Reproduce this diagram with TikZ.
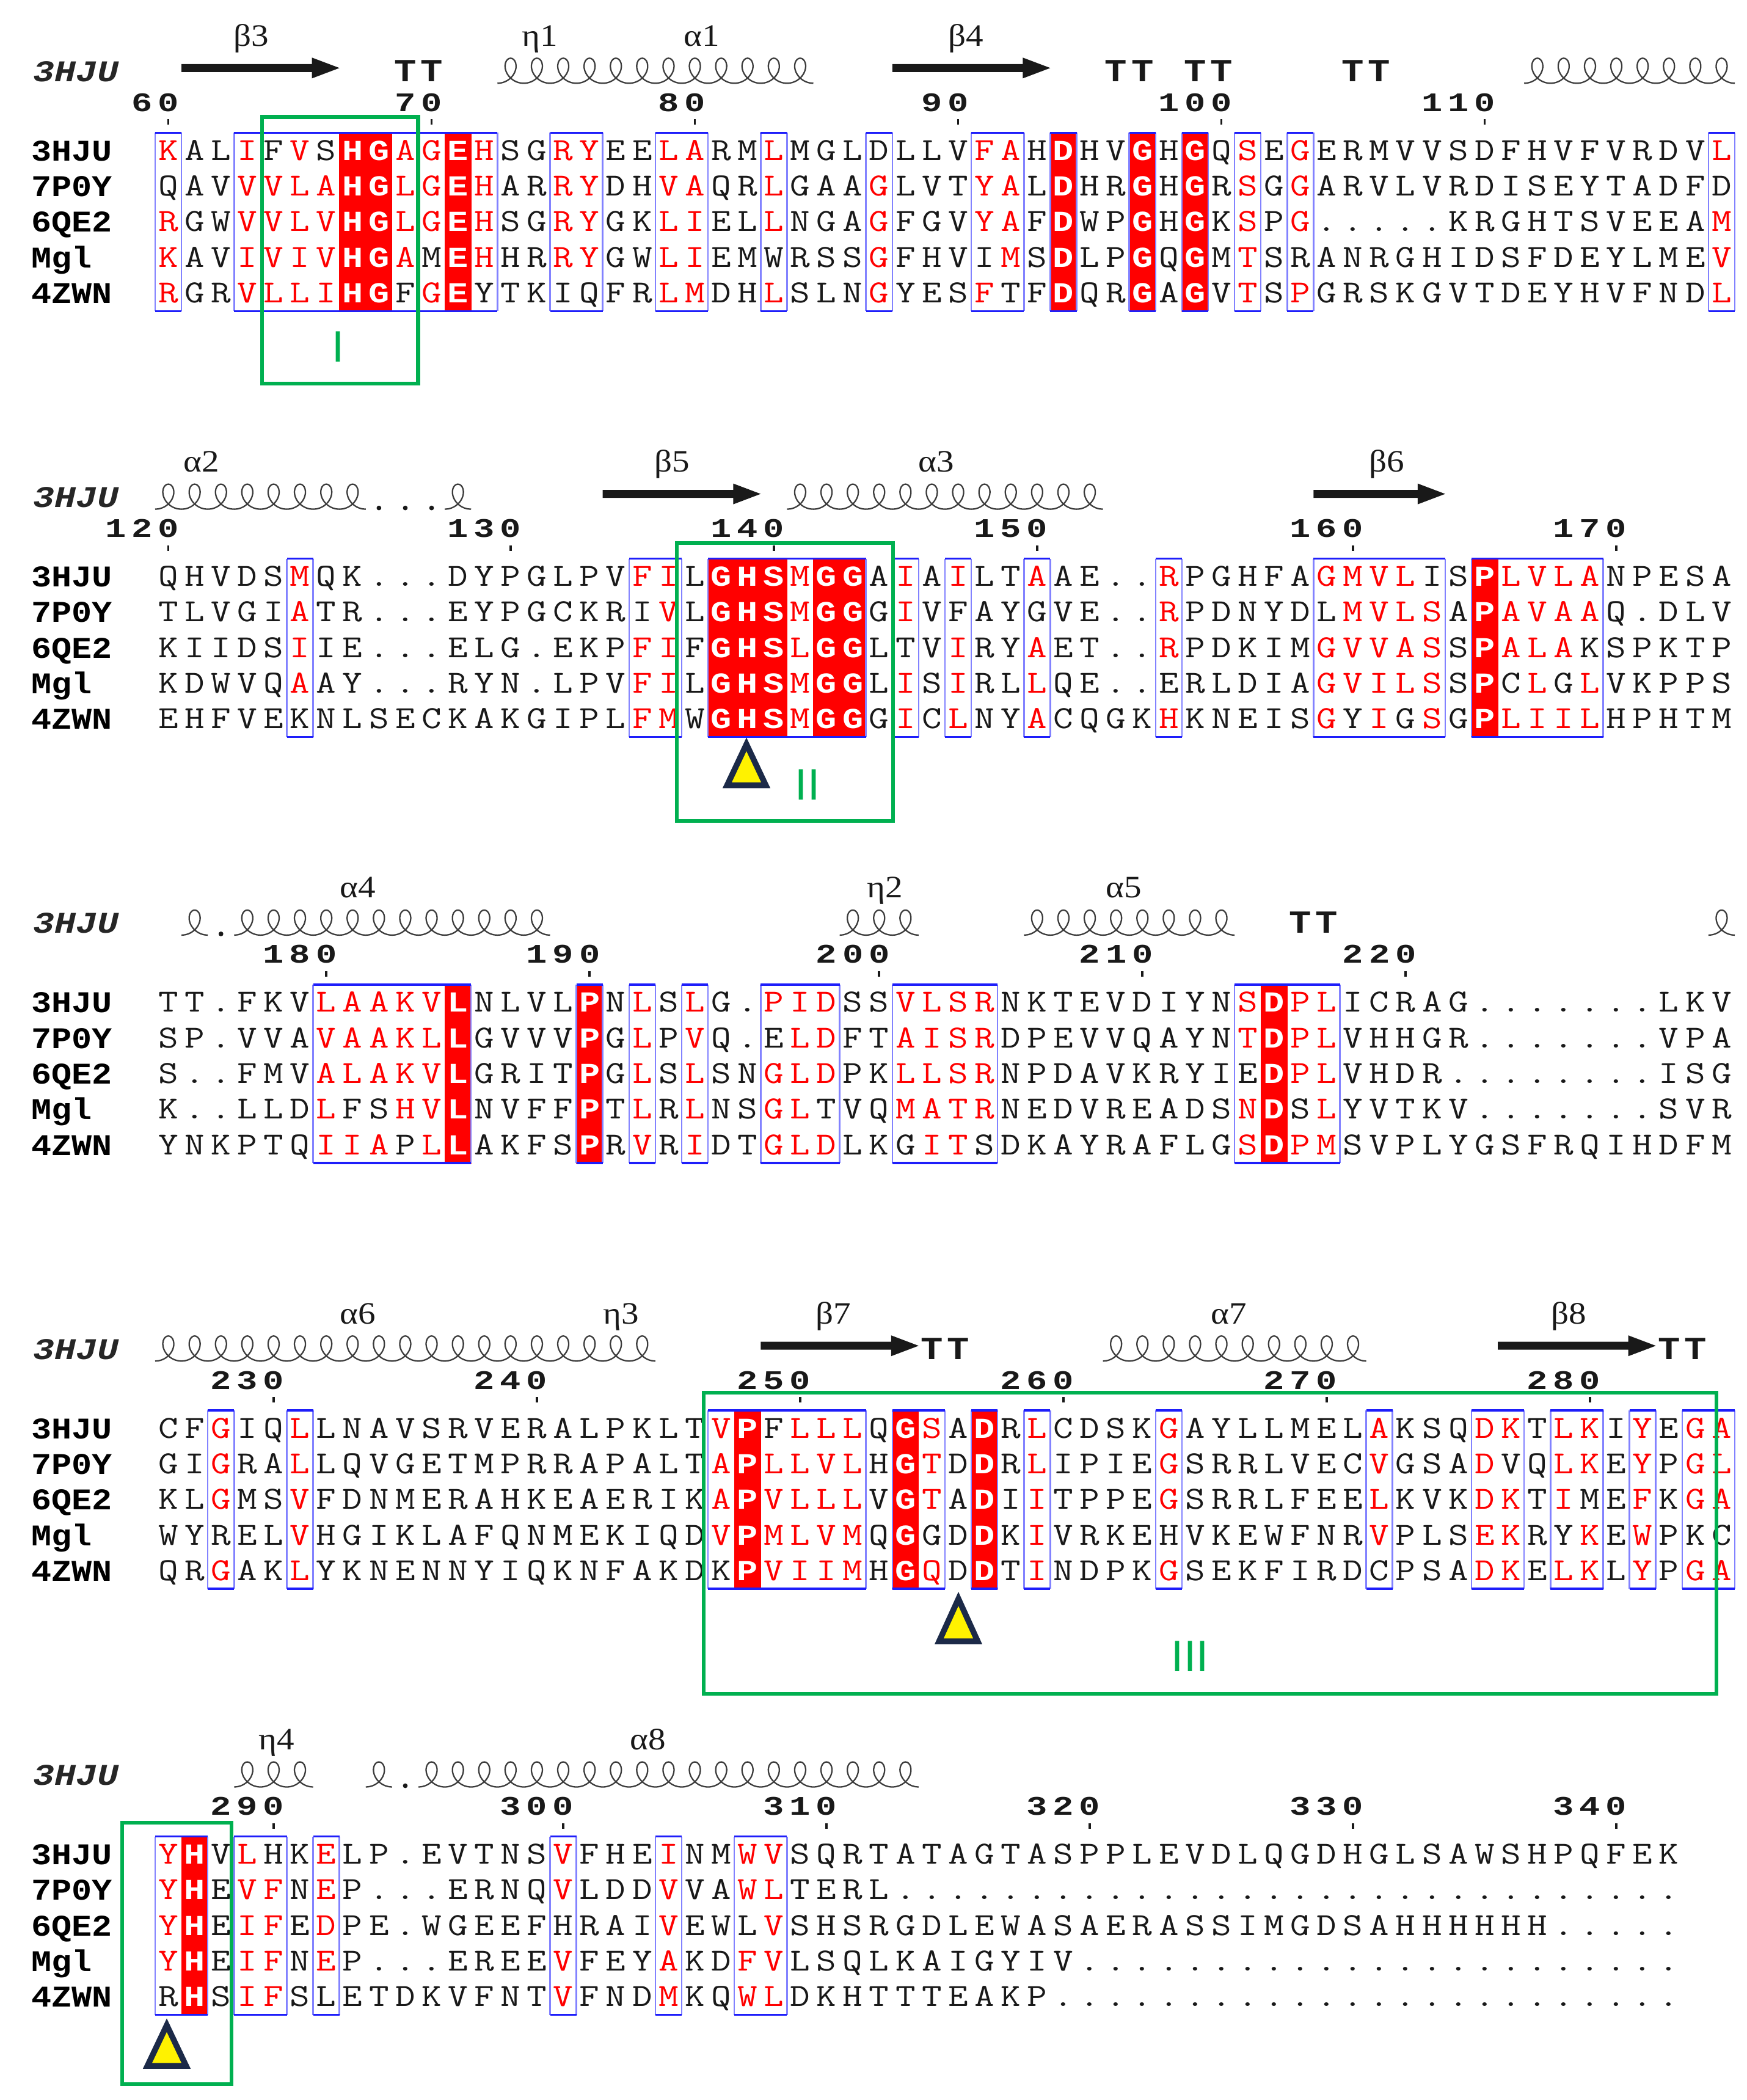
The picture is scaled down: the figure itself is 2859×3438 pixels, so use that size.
\documentclass[tikz,border=0pt]{standalone}
\usepackage{fontspec}
\newfontfamily\lmono{Liberation Mono}
\newfontfamily\lserif{Liberation Serif}
\newfontfamily\lsans{Liberation Sans}

\definecolor{espred}{RGB}{255,0,0}
\definecolor{espblue}{RGB}{30,30,250}
\definecolor{espside}{RGB}{130,130,255}
\definecolor{grn}{RGB}{0,176,80}
\definecolor{navy}{RGB}{28,42,72}
\definecolor{ink}{RGB}{25,25,25}

\def\seqf{\ttfamily\fontsize{15pt}{15pt}\selectfont}
\def\seqb{\lmono\bfseries\fontsize{13.5pt}{13.5pt}\selectfont}
\def\namefont{\lmono\bfseries\fontsize{14pt}{14pt}\selectfont}
\def\hdrfont{\lmono\bfseries\itshape\fontsize{14pt}{14pt}\selectfont}
\def\numfont{\lmono\bfseries\fontsize{12.5pt}{12.5pt}\selectfont}
\def\ttfont{\lmono\bfseries\fontsize{15pt}{15pt}\selectfont}
\def\grkfont{\lserif\fontsize{14.5pt}{14.5pt}\selectfont}
\def\romfont{\lsans\fontsize{20.5pt}{20.5pt}\selectfont}

\tikzset{
 klet/.style={anchor=base,inner sep=0pt,text=ink,font=\seqf},
 rlet/.style={anchor=base,inner sep=0pt,text=espred,font=\seqf},
 wlet/.style={anchor=base,inner sep=0pt,text=white,font=\seqb},
 namef/.style={anchor=base west,inner sep=0pt,text=black,font=\namefont},
 hdrf/.style={anchor=base west,inner sep=0pt,text=black!85,font=\hdrfont},
 numf/.style={anchor=base,inner sep=0pt,text=ink,font=\numfont},
 ttf/.style={anchor=base,inner sep=0pt,text=ink,font=\ttfont},
 grk/.style={anchor=base,inner sep=0pt,text=ink,font=\grkfont},
 grnlab/.style={inner sep=0pt,text=grn,font=\romfont},
 helixl/.style={draw=ink!85,line width=0.65pt},
 grnbox/.style={draw=grn,line width=1.85pt},
 tribox/.style={fill=yellow,draw=navy,line width=2.7pt,line join=miter,miter limit=20},
}

\newcount\colc
\newif\ifwhite
\def\sqs#1{\scalebox{1.2}[1]{#1}}
\def\seqline#1#2{\global\colc=0 \def\sqy{#1}\global\whitefalse\seqloop#2\relax}
\def\seqloop#1{\ifx#1\relax\let\seqnext\relax\else\seqhandle#1\let\seqnext\seqloop\fi\seqnext}
\def\seqhandle#1{%
  \if!#1\global\whitetrue\else
    \pgfmathsetmacro\sqx{275.55+43.1*\the\colc}%
    \ifwhite
      \fill[espred] (\sqx-22,\sqy-29.6) rectangle (\sqx+22,\sqy+29.6);%
      \node[wlet] at (\sqx,\sqy+15) {\sqs{#1}};%
      \global\whitefalse
    \else
      \ifnum`#1>96
        \node[rlet] at (\sqx,\sqy+15) {\sqs{\uppercase{#1}}};%
      \else
        \node[klet] at (\sqx,\sqy+15) {\sqs{#1}};%
      \fi
    \fi
    \global\advance\colc by 1
  \fi}

\def\seqblock#1#2#3#4#5#6{%
  \pgfmathsetmacro\ya{#1}\pgfmathsetmacro\yb{#1+58.3}\pgfmathsetmacro\yc{#1+116.6}%
  \pgfmathsetmacro\yd{#1+174.9}\pgfmathsetmacro\ye{#1+233.2}%
  \node[namef] at (51,\ya+16) {\scalebox{1.12}[1]{3HJU}};
  \node[namef] at (51,\yb+16) {\scalebox{1.12}[1]{7P0Y}};
  \node[namef] at (51,\yc+16) {\scalebox{1.12}[1]{6QE2}};
  \node[namef] at (51,\yd+16) {\scalebox{1.12}[1]{Mgl}};
  \node[namef] at (51,\ye+16) {\scalebox{1.12}[1]{4ZWN}};
  \node[hdrf] at (54,#1-114) {\scalebox{1.18}[1]{3HJU}};
  \seqline{\ya}{#2}\seqline{\yb}{#3}\seqline{\yc}{#4}\seqline{\yd}{#5}\seqline{\ye}{#6}}

\def\bbox#1#2#3{\pgfmathsetmacro\bxl{254+43.1*#2}\pgfmathsetmacro\bxr{254+43.1*(#3+1)}%
  \draw[espside,line width=0.7pt] (\bxl,#1-30) -- (\bxl,#1+262) (\bxr,#1-30) -- (\bxr,#1+262);
  \draw[espblue,line width=1pt] (\bxl,#1-30) -- (\bxr,#1-30) (\bxl,#1+262) -- (\bxr,#1+262);}

\def\resnum#1#2#3#4{\pgfmathsetmacro\tx{275.55+43.1*#2}%
  \fill[ink] (\tx-1.8,#1-52) rectangle (\tx+1.8,#1-43);
  \global\colc=#3 \def\sqy{#1}\digloop#4\relax}
\def\digloop#1{\ifx#1\relax\let\dnext\relax\else
  \pgfmathsetmacro\sqx{275.55+43.1*\the\colc}%
  \node[numf] at (\sqx,\sqy-65) {\scalebox{1.3}[1]{#1}};%
  \global\advance\colc by 1 \let\dnext\digloop\fi\dnext}

\def\helix#1#2#3{\pgfmathsetmacro\hxa{275.55+43.1*#2}%
  \pgfmathsetmacro\hend{(#3-#2)*360+180}%
  \pgfmathtruncatemacro\hsamp{(#3-#2+1)*28+1}%
  \draw[helixl] plot[variable=\t,domain=-180:\hend,samples=\hsamp,smooth]
    ({\hxa+\t/360*43.1-18.5*sin(\t)},{#1-152+20.5*(1-cos(\t))});}
\def\hdot#1#2{\pgfmathsetmacro\tx{275.55+43.1*#2}\fill[ink] (\tx,#1-113) circle[radius=1.1pt];}
\def\strand#1#2#3{\pgfmathsetmacro\sxl{254+43.1*#2}\pgfmathsetmacro\sxr{254+43.1*(#3+1)}%
  \pgfmathsetmacro\syc{#1-136}%
  \fill[ink] (\sxl,\syc-6.5) -- (\sxr-45,\syc-6.5) -- (\sxr-45,\syc-17) -- (\sxr,\syc)
    -- (\sxr-45,\syc+17) -- (\sxr-45,\syc+6.5) -- (\sxl,\syc+6.5) -- cycle;}
\def\ttm#1#2{\pgfmathsetmacro\tx{275.55+43.1*#2}\pgfmathsetmacro\txb{275.55+43.1*(#2+1)}%
  \node[ttf] at (\tx,#1-114) {\scalebox{1.15}[1]{T}};
  \node[ttf] at (\txb,#1-114) {\scalebox{1.15}[1]{T}};}
\def\sslabel#1#2#3{\node[grk] at (#2,#1-172) {\scalebox{1.12}[1]{#3}};}
% x centre, outer apex y, outer base y
\def\tri#1#2#3{\filldraw[tribox] (#1,#2+11.5) -- (#1+31.6,#3-5) -- (#1-31.6,#3-5) -- cycle;}

\begin{document}
\begin{tikzpicture}[x=0.01cm,y=-0.01cm]
\useasboundingbox (0,0) rectangle (2859,3438);
\fill[white] (0,0) rectangle (2859,3438);

% ---------------- Block 1 ----------------
\seqblock{247.3}%
 {kALiFvS!H!Gag!EhSGryEElaRMlMGLDLLVfaH!DHV!GH!GQsEgERMVVSDFHVFVRDVl}%
 {QAVvvla!H!Glg!EhARryDHvaQRlGAAgLVTyaL!DHR!GH!GRsGgARVLVRDISEYTADFD}%
 {rGWvvlv!H!Glg!EhSGryGKliELlNGAgFGVyaF!DWP!GH!GKsPg.....KRGHTSVEEAm}%
 {kAViviv!H!GaM!EhHRryGWliEMWRSSgFHVImS!DLP!GQ!GMtSRANRGHIDSFDEYLMEv}%
 {rGRvlli!H!GFg!EYTKIQFRlmDHlSLNgYESfTF!DQR!GA!GVtSpGRSKGVTDEYHVFNDl}
\foreach \a/\b in {0/0,3/12,15/16,19/20,23/23,27/27,31/32,34/34,37/37,39/39,41/41,43/43,59/59} {\bbox{247.3}{\a}{\b}}
\resnum{247.3}{0}{-1}{60}\resnum{247.3}{10}{9}{70}\resnum{247.3}{20}{19}{80}
\resnum{247.3}{30}{29}{90}\resnum{247.3}{40}{38}{100}\resnum{247.3}{50}{48}{110}
\strand{247.3}{1}{6}\ttm{247.3}{9}\helix{247.3}{13}{24}\strand{247.3}{28}{33}
\ttm{247.3}{36}\ttm{247.3}{39}\ttm{247.3}{45}\helix{247.3}{52}{59}
\sslabel{247.3}{411}{β3}\sslabel{247.3}{884}{η1}\sslabel{247.3}{1149}{α1}\sslabel{247.3}{1581}{β4}

% ---------------- Block 2 ----------------
\seqblock{944.6}%
 {QHVDSmQK...DYPGLPVfiL!G!H!Sm!G!GAiAiLTaAE..rPGHFAgmvlIS!PlvlaNPESA}%
 {TLVGIaTR...EYPGCKRIvL!G!H!Sm!G!GGiVFAYGVE..rPDNYDLmvlsA!PavaaQ.DLV}%
 {KIIDSiIE...ELG.EKPfiF!G!H!Sl!G!GLTViRYaET..rPDKIMgvvasS!PalaKSPKTP}%
 {KDWVQaAY...RYN.LPVfiL!G!H!Sm!G!GLiSiRLlQE..ERLDIAgvilsS!PClGlVKPPS}%
 {EHFVEKNLSECKAKGIPLfmW!G!H!Sm!G!GGiClNYaCQGKhKNEISgYiGsG!PliilHPHTM}
\foreach \a/\b in {5/5,18/19,21/26,28/28,30/30,33/33,38/38,44/48,50/54} {\bbox{944.6}{\a}{\b}}
\resnum{944.6}{0}{-2}{120}\resnum{944.6}{13}{11}{130}\resnum{944.6}{23}{21}{140}
\resnum{944.6}{33}{31}{150}\resnum{944.6}{45}{43}{160}\resnum{944.6}{55}{53}{170}
\helix{944.6}{0}{7}\hdot{944.6}{8}\hdot{944.6}{9}\hdot{944.6}{10}\helix{944.6}{11}{11}
\strand{944.6}{17}{22}\helix{944.6}{24}{35}\strand{944.6}{44}{48}
\sslabel{944.6}{330}{α2}\sslabel{944.6}{1100}{β5}\sslabel{944.6}{1533}{α3}\sslabel{944.6}{2270}{β6}

% ---------------- Block 3 ----------------
\seqblock{1641.9}%
 {TT.FKVlaakv!LNLVL!PNlSlG.pidSSvlsrNKTEVDIYNs!DplICRAG.......LKV}%
 {SP.VVAvaakl!LGVVV!PGlPvQ.EldFTaisrDPEVVQAYNt!DplVHHGR.......VPA}%
 {S..FMValakv!LGRIT!PGlSlSNgldPKllsrNPDAVKRYIE!DplVHDR........ISG}%
 {K..LLDlFShv!LNVFF!PTlRlNSglTVQmatrNEDVREADSn!DSlYVTKV.......SVR}%
 {YNKPTQiiaPl!LAKFS!PRvRiDTgldLKGitSDKAYRAFLGs!DpmSVPLYGSFRQIHDFM}
\foreach \a/\b in {6/11,16/16,18/18,20/20,23/25,28/31,41/44} {\bbox{1641.9}{\a}{\b}}
\resnum{1641.9}{6}{4}{180}\resnum{1641.9}{16}{14}{190}\resnum{1641.9}{27}{25}{200}
\resnum{1641.9}{37}{35}{210}\resnum{1641.9}{47}{45}{220}
\helix{1641.9}{1}{1}\hdot{1641.9}{2}\helix{1641.9}{3}{14}\helix{1641.9}{26}{28}
\helix{1641.9}{33}{40}\ttm{1641.9}{43}\helix{1641.9}{59}{59}
\sslabel{1641.9}{586}{α4}\sslabel{1641.9}{1449}{η2}\sslabel{1641.9}{1840}{α5}

% ---------------- Block 4 ----------------
\seqblock{2339.2}%
 {CFgIQlLNAVSRVERALPKLTv!PFlllQ!GsA!DRlCDSKgAYLLMELaKSQdkTlkIyEga}%
 {GIgRAlLQVGETMPRRAPALTa!PllvlH!GtD!DRlIPIEgSRRLVECvGSAdVQlkEyPgl}%
 {KLgMSvFDNMERAHKEAERIKa!PvlllV!GtA!DIiTPPEgSRRLFEElKVKdkTiMEfKga}%
 {WYRELvHGIKLAFQNMEKIQDv!PmlvmQ!GGD!DKiVRKEHVKEWFNRvPLSekRYkEwPKC}%
 {QRgAKlYKNENNYIQKNFAKDK!PviimH!GqD!DTiNDPKgSEKFIRDCPSAdkElkLyPga}
\foreach \a/\b in {2/2,5/5,21/26,28/29,31/31,33/33,38/38,46/46,50/51,53/54,56/56,58/59} {\bbox{2339.2}{\a}{\b}}
\resnum{2339.2}{4}{2}{230}\resnum{2339.2}{14}{12}{240}\resnum{2339.2}{24}{22}{250}
\resnum{2339.2}{34}{32}{260}\resnum{2339.2}{44}{42}{270}\resnum{2339.2}{54}{52}{280}
\helix{2339.2}{0}{18}\strand{2339.2}{23}{28}\ttm{2339.2}{29}\helix{2339.2}{36}{45}
\strand{2339.2}{51}{56}\ttm{2339.2}{57}
\sslabel{2339.2}{586}{α6}\sslabel{2339.2}{1017}{η3}\sslabel{2339.2}{1364}{β7}
\sslabel{2339.2}{2012}{α7}\sslabel{2339.2}{2568}{β8}

% ---------------- Block 5 ----------------
\seqblock{3036.5}%
 {y!HVlHKeLP.EVTNSvFHEiNMwvSQRTATAGTASPPLEVDLQGDHGLSAWSHPQFEK}%
 {y!HEvfNeP...ERNQvLDDvVAwlTERL..............................}%
 {y!HEifEdPE.WGEEFHRAIvEWLvSHSRGDLEWASAERASSIMGDSAHHHHHH.....}%
 {y!HEifNeP...EREEvFEYaKDfvLSQLKAIGYIV.......................}%
 {R!HSifSLETDKVFNTvFNDmKQwlDKHTTTEAKP........................}
\foreach \a/\b in {0/1,3/4,6/6,15/15,19/19,22/23} {\bbox{3036.5}{\a}{\b}}
\resnum{3036.5}{4}{2}{290}\resnum{3036.5}{15}{13}{300}\resnum{3036.5}{25}{23}{310}
\resnum{3036.5}{35}{33}{320}\resnum{3036.5}{45}{43}{330}\resnum{3036.5}{55}{53}{340}
\helix{3036.5}{3}{5}\helix{3036.5}{8}{8}\hdot{3036.5}{9}\helix{3036.5}{10}{28}
\sslabel{3036.5}{453}{η4}\sslabel{3036.5}{1061}{α8}

% ---------------- motif frames ----------------
\draw[grnbox] (429,191.5) rectangle (684.5,628);
\node[grnlab] (labI) at (554,568) {I};
\draw[grnbox] (1108,889) rectangle (1462,1344);
\node[grnlab] (labII) at (1322,1285) {II};
\draw[grnbox] (1152,2280) rectangle (2810,2773);
\node[grnlab] (labIII) at (1948,2712) {III};
\draw[grnbox] (200,2984) rectangle (379,3412);
\tri{1222}{1207}{1290.5}
\tri{1569}{2606}{2692}
\tri{273}{3304}{3387}
\end{tikzpicture}
\end{document}
